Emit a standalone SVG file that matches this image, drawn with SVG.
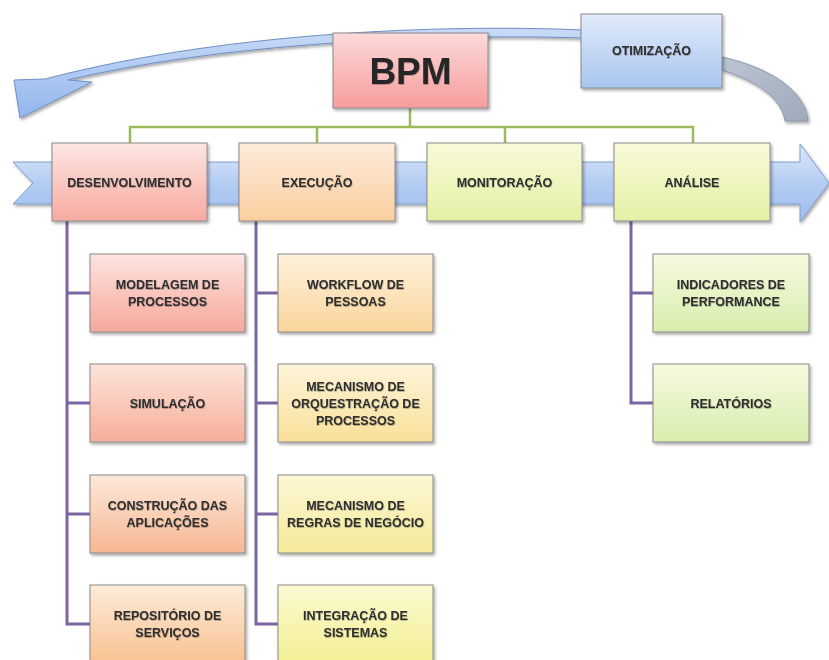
<svg xmlns="http://www.w3.org/2000/svg" width="829" height="660" viewBox="0 0 829 660">
  <defs>
    <linearGradient id="gBpm" x1="0" y1="0" x2="0" y2="1"><stop offset="0" stop-color="#fcdada"/><stop offset="1" stop-color="#f79c9c"/></linearGradient>
    <linearGradient id="gOti" x1="0" y1="0" x2="0" y2="1"><stop offset="0" stop-color="#e1ebfb"/><stop offset="1" stop-color="#a8c5f0"/></linearGradient>
    <linearGradient id="gDes" x1="0" y1="0" x2="0" y2="1"><stop offset="0" stop-color="#fde6e3"/><stop offset="1" stop-color="#f7aaa0"/></linearGradient>
    <linearGradient id="gExe" x1="0" y1="0" x2="0" y2="1"><stop offset="0" stop-color="#fdebdc"/><stop offset="1" stop-color="#fbcf9f"/></linearGradient>
    <linearGradient id="gMon" x1="0" y1="0" x2="0" y2="1"><stop offset="0" stop-color="#f9fad8"/><stop offset="1" stop-color="#e4f0a6"/></linearGradient>
    <linearGradient id="gD1" x1="0" y1="0" x2="0" y2="1"><stop offset="0" stop-color="#fde4df"/><stop offset="1" stop-color="#f6a89c"/></linearGradient>
    <linearGradient id="gD2" x1="0" y1="0" x2="0" y2="1"><stop offset="0" stop-color="#fde5dc"/><stop offset="1" stop-color="#f6ae98"/></linearGradient>
    <linearGradient id="gD3" x1="0" y1="0" x2="0" y2="1"><stop offset="0" stop-color="#fde8da"/><stop offset="1" stop-color="#f7b792"/></linearGradient>
    <linearGradient id="gD4" x1="0" y1="0" x2="0" y2="1"><stop offset="0" stop-color="#fdebd8"/><stop offset="1" stop-color="#f9c190"/></linearGradient>
    <linearGradient id="gE1" x1="0" y1="0" x2="0" y2="1"><stop offset="0" stop-color="#fdf1dc"/><stop offset="1" stop-color="#fbd59c"/></linearGradient>
    <linearGradient id="gE2" x1="0" y1="0" x2="0" y2="1"><stop offset="0" stop-color="#fdf4d8"/><stop offset="1" stop-color="#f9e09a"/></linearGradient>
    <linearGradient id="gE3" x1="0" y1="0" x2="0" y2="1"><stop offset="0" stop-color="#fcf7d5"/><stop offset="1" stop-color="#f5ea98"/></linearGradient>
    <linearGradient id="gE4" x1="0" y1="0" x2="0" y2="1"><stop offset="0" stop-color="#fcfad2"/><stop offset="1" stop-color="#f3ef92"/></linearGradient>
    <linearGradient id="gA" x1="0" y1="0" x2="0" y2="1"><stop offset="0" stop-color="#f6fadf"/><stop offset="1" stop-color="#d8eeae"/></linearGradient>
    <linearGradient id="gBand" x1="0" y1="0" x2="0" y2="1"><stop offset="0" stop-color="#dde8fa"/><stop offset="0.5" stop-color="#b5cdf3"/><stop offset="1" stop-color="#9dbcee"/></linearGradient>
    <linearGradient id="gArc" x1="0" y1="0" x2="0" y2="1"><stop offset="0" stop-color="#c9dbf7"/><stop offset="1" stop-color="#93b6ec"/></linearGradient>
    <linearGradient id="gTail" x1="0" y1="0" x2="1" y2="1"><stop offset="0" stop-color="#bcc5d2"/><stop offset="1" stop-color="#9eaabb"/></linearGradient>
    <filter id="sh" x="-10%" y="-10%" width="125%" height="130%">
      <feDropShadow dx="1.5" dy="2" stdDeviation="1.5" flood-color="#000" flood-opacity="0.35"/>
    </filter>
    <filter id="tsh" x="-10%" y="-30%" width="120%" height="160%">
      <feDropShadow dx="0.5" dy="0.8" stdDeviation="0.6" flood-color="#000" flood-opacity="0.3"/>
    </filter>
  </defs>
  <style>
    .box { stroke: #8a8a8a; stroke-width: 1; filter: url(#sh); }
    .t { font-family: "Liberation Sans", Arial, sans-serif; font-weight: bold; font-size: 12.5px; fill: #2e2e2e; text-anchor: middle; filter: url(#tsh); }
    .big { font-size: 37px; fill: #262626; }
    .green { fill: none; stroke: #9bbb59; stroke-width: 2.5; }
    .purple { fill: none; stroke: #7d64a2; stroke-width: 3; }
  </style>

  <rect width="829" height="660" fill="#ffffff"/>

  <!-- feedback loop: grey tail and blue arc back to the start -->
  <g id="loop">
    <path d="M 722,57 C 772,68 806,92 808,121 L 785,121 C 782,100 760,82 722,70 Z" fill="url(#gTail)" stroke="#8d98a9" stroke-width="1" filter="url(#sh)"/>
    <path d="M 582,30 C 470,25 240,28 45,79 L 14,80 L 20,118 L 92,82 L 68,80 C 240,39 470,34 582,38 Z" fill="url(#gArc)" stroke="#6f8fc4" stroke-width="1" filter="url(#sh)"/>
  </g>

  <!-- process band -->
  <g id="band">
    <path d="M 13,162 L 800,162 L 800,144 L 829,183 L 800,222 L 800,204 L 13,204 L 33,183 Z" fill="url(#gBand)" stroke="#7f9fd0" stroke-width="1" filter="url(#sh)"/>
  </g>

  <!-- connectors -->
  <g id="connectors">
    <path class="green" d="M 410,108 V 127 M 130,143 V 127 H 693 V 143 M 317,127 V 143 M 505,127 V 143"/>
    <path class="purple" d="M 67,221 V 624 H 90 M 67,293 H 90 M 67,403 H 90 M 67,514 H 90"/>
    <path class="purple" d="M 256,221 V 624 H 278 M 256,293 H 278 M 256,403 H 278 M 256,514 H 278"/>
    <path class="purple" d="M 631,221 V 403 H 653 M 631,293 H 653"/>
  </g>

  <g id="otimizacao">
    <rect class="box" x="581" y="14" width="141" height="74" fill="url(#gOti)"/>
    <text class="t" x="651.5" y="55" font-size="12">OTIMIZAÇÃO</text>
  </g>

  <g id="bpm">
    <rect class="box" x="333" y="33" width="155" height="75" fill="url(#gBpm)"/>
    <text class="t big" x="410.5" y="84">BPM</text>
  </g>

  <g id="desenvolvimento">
    <rect class="box" x="52" y="143" width="155" height="78" fill="url(#gDes)"/>
    <text class="t" x="129.5" y="187">DESENVOLVIMENTO</text>
  </g>
  <g id="execucao">
    <rect class="box" x="239" y="143" width="156" height="78" fill="url(#gExe)"/>
    <text class="t" x="317" y="187">EXECUÇÃO</text>
  </g>
  <g id="monitoracao">
    <rect class="box" x="427" y="143" width="155" height="78" fill="url(#gMon)"/>
    <text class="t" x="504.5" y="187">MONITORAÇÃO</text>
  </g>
  <g id="analise">
    <rect class="box" x="614" y="143" width="156" height="78" fill="url(#gMon)"/>
    <text class="t" x="692" y="187">ANÁLISE</text>
  </g>

  <!-- development tasks -->
  <g id="modelagem">
    <rect class="box" x="90" y="254" width="155" height="78" fill="url(#gD1)"/>
    <text class="t" x="167.5" y="289">MODELAGEM DE</text>
    <text class="t" x="167.5" y="306">PROCESSOS</text>
  </g>
  <g id="simulacao">
    <rect class="box" x="90" y="364" width="155" height="78" fill="url(#gD2)"/>
    <text class="t" x="167.5" y="408">SIMULAÇÃO</text>
  </g>
  <g id="construcao">
    <rect class="box" x="90" y="475" width="155" height="78" fill="url(#gD3)"/>
    <text class="t" x="167.5" y="510">CONSTRUÇÃO DAS</text>
    <text class="t" x="167.5" y="527">APLICAÇÕES</text>
  </g>
  <g id="repositorio">
    <rect class="box" x="90" y="585" width="155" height="80" fill="url(#gD4)"/>
    <text class="t" x="167.5" y="620">REPOSITÓRIO DE</text>
    <text class="t" x="167.5" y="637">SERVIÇOS</text>
  </g>

  <!-- execution tasks -->
  <g id="workflow">
    <rect class="box" x="278" y="254" width="155" height="78" fill="url(#gE1)"/>
    <text class="t" x="355.5" y="289">WORKFLOW DE</text>
    <text class="t" x="355.5" y="306">PESSOAS</text>
  </g>
  <g id="orquestracao">
    <rect class="box" x="278" y="364" width="155" height="78" fill="url(#gE2)"/>
    <text class="t" x="355.5" y="391">MECANISMO DE</text>
    <text class="t" x="355.5" y="408">ORQUESTRAÇÃO DE</text>
    <text class="t" x="355.5" y="425">PROCESSOS</text>
  </g>
  <g id="regras">
    <rect class="box" x="278" y="475" width="155" height="78" fill="url(#gE3)"/>
    <text class="t" x="355.5" y="510">MECANISMO DE</text>
    <text class="t" x="355.5" y="527">REGRAS DE NEGÓCIO</text>
  </g>
  <g id="integracao">
    <rect class="box" x="278" y="585" width="155" height="80" fill="url(#gE4)"/>
    <text class="t" x="355.5" y="620">INTEGRAÇÃO DE</text>
    <text class="t" x="355.5" y="637">SISTEMAS</text>
  </g>

  <!-- analysis outputs -->
  <g id="indicadores">
    <rect class="box" x="653" y="254" width="156" height="78" fill="url(#gA)"/>
    <text class="t" x="731" y="289">INDICADORES DE</text>
    <text class="t" x="731" y="306">PERFORMANCE</text>
  </g>
  <g id="relatorios">
    <rect class="box" x="653" y="364" width="156" height="78" fill="url(#gA)"/>
    <text class="t" x="731" y="408">RELATÓRIOS</text>
  </g>
</svg>
